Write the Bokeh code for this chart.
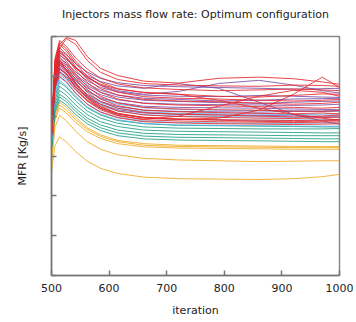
from bokeh.plotting import figure
from bokeh.models import Range1d, FixedTicker, CustomJSTickFormatter, Title
from bokeh.embed import file_html
from bokeh.resources import INLINE

iteration = [500, 506, 514, 526, 542, 562, 585, 615, 660, 720, 790, 860, 920, 970, 1000]
x_ticks = [500, 600, 700, 800, 900, 1000]
y_ticks = [0, 1, 2, 3, 4, 5, 6]

# yellow injectors
Y1 = [2.60, 3.26, 3.48, 3.35, 3.11, 2.87, 2.69, 2.56, 2.47, 2.43, 2.42, 2.41, 2.43, 2.48, 2.54]
Y2 = [2.80, 3.72, 4.02, 3.88, 3.62, 3.36, 3.17, 3.03, 2.94, 2.90, 2.88, 2.86, 2.87, 2.88, 2.88]
Y3 = [3.00, 3.90, 4.20, 4.08, 3.84, 3.61, 3.44, 3.31, 3.23, 3.20, 3.19, 3.18, 3.17, 3.17, 3.17]
Y4 = [3.05, 3.97, 4.28, 4.15, 3.91, 3.67, 3.49, 3.36, 3.27, 3.24, 3.23, 3.22, 3.21, 3.21, 3.21]
Y5 = [3.10, 4.04, 4.35, 4.22, 3.97, 3.71, 3.53, 3.39, 3.31, 3.27, 3.26, 3.25, 3.24, 3.24, 3.24]

# teal injectors
T1 = [3.40, 4.49, 4.85, 4.72, 4.47, 4.21, 4.03, 3.89, 3.81, 3.77, 3.76, 3.75, 3.74, 3.73, 3.73]
T2 = [3.35, 4.40, 4.75, 4.62, 4.38, 4.13, 3.95, 3.82, 3.73, 3.70, 3.69, 3.68, 3.68, 3.68, 3.69]
T3 = [3.30, 4.31, 4.65, 4.52, 4.28, 4.04, 3.86, 3.74, 3.65, 3.62, 3.61, 3.60, 3.59, 3.58, 3.58]
T4 = [3.25, 4.23, 4.55, 4.43, 4.19, 3.95, 3.78, 3.65, 3.57, 3.54, 3.53, 3.52, 3.51, 3.51, 3.51]
T5 = [3.20, 4.16, 4.48, 4.36, 4.12, 3.88, 3.71, 3.58, 3.50, 3.47, 3.46, 3.45, 3.44, 3.43, 3.43]
T6 = [3.15, 4.09, 4.40, 4.28, 4.04, 3.81, 3.64, 3.51, 3.43, 3.40, 3.39, 3.38, 3.37, 3.36, 3.36]

# light blue injectors
B1 = [3.50, 4.85, 5.30, 5.16, 4.90, 4.63, 4.44, 4.30, 4.21, 4.17, 4.15, 4.14, 4.13, 4.12, 4.12]
B2 = [3.45, 4.76, 5.20, 5.06, 4.80, 4.53, 4.34, 4.20, 4.11, 4.07, 4.06, 4.05, 4.04, 4.05, 4.05]
B3 = [3.40, 4.69, 5.12, 4.98, 4.72, 4.46, 4.27, 4.13, 4.04, 4.00, 3.99, 3.98, 3.97, 3.97, 3.97]
B4 = [3.38, 4.63, 5.05, 4.91, 4.65, 4.38, 4.19, 4.05, 3.96, 3.92, 3.91, 3.90, 3.90, 3.91, 3.91]
B5 = [3.35, 4.57, 4.98, 4.84, 4.57, 4.31, 4.11, 3.97, 3.88, 3.84, 3.83, 3.82, 3.82, 3.83, 3.83]
B6 = [3.30, 4.50, 4.90, 4.76, 4.50, 4.24, 4.05, 3.91, 3.82, 3.78, 3.77, 3.76, 3.75, 3.75, 3.75]

# purple injectors
P1 = [3.60, 5.14, 5.65, 5.54, 5.32, 5.11, 4.95, 4.84, 4.77, 4.74, 4.72, 4.70, 4.68, 4.69, 4.70]
P2 = [3.58, 5.10, 5.60, 5.47, 5.22, 4.96, 4.78, 4.64, 4.55, 4.62, 4.82, 4.90, 4.78, 4.64, 4.58]
P3 = [3.56, 5.03, 5.52, 5.42, 5.22, 5.02, 4.87, 4.76, 4.70, 4.82, 4.70, 4.35, 4.05, 3.88, 3.80]
P4 = [3.55, 4.98, 5.45, 5.33, 5.11, 4.89, 4.72, 4.61, 4.53, 4.50, 4.49, 4.52, 4.50, 4.48, 4.47]
P5 = [3.53, 4.93, 5.40, 5.28, 5.05, 4.82, 4.65, 4.53, 4.45, 4.42, 4.38, 4.40, 4.43, 4.44, 4.45]
P6 = [3.52, 4.89, 5.35, 5.23, 5.00, 4.77, 4.60, 4.48, 4.40, 4.37, 4.34, 4.32, 4.35, 4.37, 4.38]
P7 = [3.50, 4.85, 5.30, 5.18, 4.94, 4.71, 4.54, 4.41, 4.33, 4.30, 4.29, 4.28, 4.27, 4.28, 4.30]
P8 = [3.48, 4.81, 5.25, 5.12, 4.88, 4.64, 4.46, 4.34, 4.25, 4.22, 4.21, 4.20, 4.18, 4.17, 4.16]
P9 = [3.47, 4.75, 5.18, 5.05, 4.80, 4.55, 4.37, 4.24, 4.15, 4.12, 4.11, 4.10, 4.12, 4.13, 4.14]
P10 = [3.45, 4.70, 5.12, 4.99, 4.74, 4.48, 4.30, 4.16, 4.08, 4.04, 4.03, 4.02, 4.01, 4.00, 4.00]

# red injectors
R1 = [3.60, 5.20, 5.80, 5.98, 5.90, 5.50, 5.20, 5.02, 4.88, 4.83, 4.95, 4.98, 4.94, 4.86, 4.80]
R2 = [3.60, 5.10, 5.70, 5.95, 5.80, 5.40, 5.10, 4.92, 4.82, 4.78, 4.76, 4.75, 4.78, 4.77, 4.75]
R3 = [3.50, 4.80, 5.20, 5.08, 4.70, 4.40, 4.20, 4.05, 3.97, 3.92, 3.95, 4.15, 4.55, 4.98, 4.72]
R4 = [3.55, 5.05, 5.60, 5.45, 5.20, 4.98, 4.80, 4.68, 4.60, 4.55, 4.40, 4.20, 4.05, 3.95, 3.90]
R5 = [3.50, 4.95, 5.40, 5.15, 4.80, 4.45, 4.20, 4.02, 3.92, 4.00, 4.25, 4.50, 4.65, 4.60, 4.50]
R6 = [3.60, 5.44, 5.90, 5.75, 5.46, 5.18, 4.96, 4.81, 4.71, 4.67, 4.64, 4.66, 4.68, 4.66, 4.64]
R7 = [3.60, 5.40, 5.85, 5.69, 5.38, 5.08, 4.85, 4.69, 4.59, 4.55, 4.50, 4.48, 4.52, 4.56, 4.55]
R8 = [3.60, 5.36, 5.80, 5.63, 5.32, 5.00, 4.77, 4.60, 4.49, 4.45, 4.43, 4.40, 4.38, 4.40, 4.42]
R9 = [3.60, 5.30, 5.72, 5.56, 5.24, 4.93, 4.69, 4.53, 4.42, 4.38, 4.36, 4.33, 4.30, 4.32, 4.35]
R10 = [3.60, 5.24, 5.65, 5.48, 5.16, 4.84, 4.60, 4.43, 4.32, 4.28, 4.26, 4.24, 4.22, 4.20, 4.22]
R11 = [3.60, 5.16, 5.55, 5.38, 5.06, 4.74, 4.50, 4.33, 4.22, 4.18, 4.16, 4.15, 4.13, 4.12, 4.14]
R12 = [3.60, 5.10, 5.48, 5.31, 4.99, 4.67, 4.43, 4.26, 4.15, 4.11, 4.09, 4.07, 4.06, 4.08, 4.06]
R13 = [3.60, 5.04, 5.40, 5.23, 4.92, 4.60, 4.37, 4.20, 4.09, 4.05, 4.03, 4.00, 3.98, 4.00, 4.03]
R14 = [3.60, 4.96, 5.30, 5.14, 4.83, 4.52, 4.30, 4.13, 4.03, 3.99, 3.97, 3.95, 3.94, 3.96, 3.98]
R15 = [3.60, 4.88, 5.20, 5.04, 4.75, 4.45, 4.23, 4.07, 3.97, 3.93, 3.91, 3.90, 3.89, 3.90, 3.92]
R16 = [3.60, 4.80, 5.10, 4.95, 4.66, 4.38, 4.16, 4.01, 3.91, 3.88, 3.86, 3.85, 3.84, 3.85, 3.86]
R17 = [3.60, 4.72, 5.00, 4.86, 4.58, 4.30, 4.10, 3.96, 3.86, 3.83, 3.81, 3.80, 3.79, 3.80, 3.81]
R18 = [3.60, 5.00, 5.35, 5.17, 4.84, 4.50, 4.25, 4.07, 3.95, 3.92, 3.90, 3.87, 3.86, 3.88, 3.90]

groups = [
    ("#efa91f", [Y1, Y2, Y3, Y4, Y5]),
    ("#1b9e80", [T1, T2, T3, T4, T5, T6]),
    ("#56b4e9", [B1, B2, B3, B4, B5, B6]),
    ("#7a4ea6", [P1, P2, P3, P4, P5, P6, P7, P8, P9, P10]),
    ("#e6262a", [R1, R2, R3, R4, R5, R6, R7, R8, R9, R10, R11, R12, R13, R14, R15, R16, R17, R18]),
]

FONT = "DejaVu Sans"

p = figure(output_backend="svg", toolbar_location=None,
           x_range=Range1d(500, 1000), y_range=Range1d(0, 6),
           title="Injectors mass flow rate: Optimum configuration",
           frame_width=288, frame_height=239,
           min_border_left=51, min_border_right=17, min_border_top=35, min_border_bottom=48,
           x_axis_label="iteration", y_axis_label="MFR [Kg/s]")

# empty spacer between the title and the frame
p.add_layout(Title(text=" ", text_font_size="8px", standoff=0), "above")

for color, series in groups:
    for ys in series:
        p.line(iteration, ys, line_color=color, line_width=1, line_alpha=0.85)

p.title.align = "center"
p.title.text_font = FONT
p.title.text_font_size = "11px"
p.title.text_font_style = "normal"
p.title.text_color = "#222222"

p.xgrid.visible = False
p.ygrid.visible = False
p.outline_line_color = "#888888"
p.outline_line_width = 1.5

p.xaxis.ticker = FixedTicker(ticks=x_ticks)
p.yaxis.ticker = FixedTicker(ticks=y_ticks)
for ax in (p.xaxis, p.yaxis):
    ax.major_tick_in = 5
    ax.major_tick_out = 0
    ax.minor_tick_line_color = None
    ax.axis_line_color = "#777777"
    ax.axis_line_width = 1.5
    ax.major_tick_line_color = "#777777"
    ax.major_tick_line_width = 1.5
    ax.axis_label_text_font = FONT
    ax.axis_label_text_font_size = "11px"
    ax.axis_label_text_font_style = "normal"
    ax.axis_label_text_color = "#222222"
    ax.major_label_text_font = FONT
    ax.major_label_text_font_size = "11px"
    ax.major_label_text_color = "#222222"

p.yaxis.formatter = CustomJSTickFormatter(code="return ''")
p.yaxis.axis_label_standoff = 23
p.xaxis.major_label_standoff = 8
p.xaxis.axis_label_standoff = 9

open("out.html", "w").write(file_html(p, INLINE))
